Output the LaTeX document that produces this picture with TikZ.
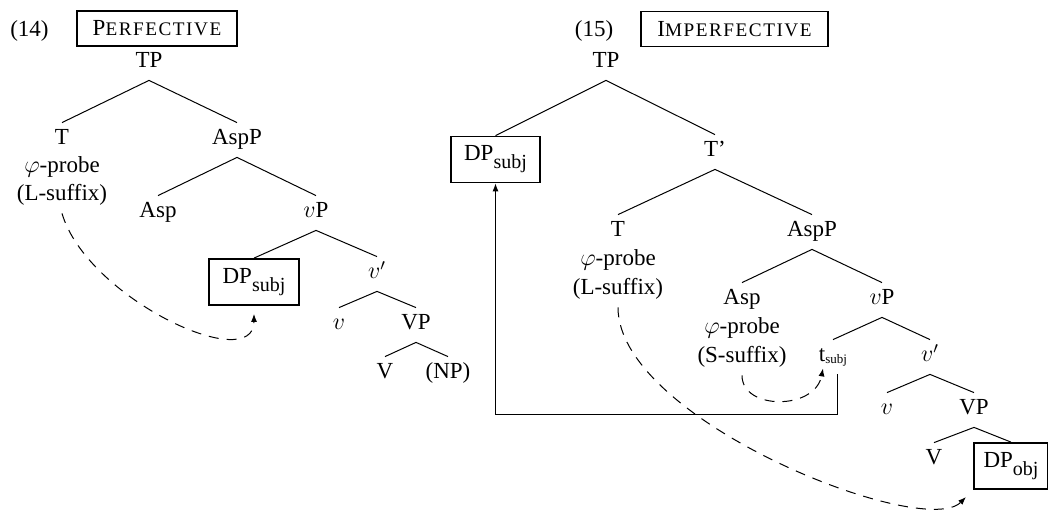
\documentclass[tikz,border=0pt]{standalone}
\usepackage{fontspec}
\setmainfont{Liberation Serif}
\usetikzlibrary{arrows.meta}
% small capitals imitated with a smaller, letter-spaced size
\newcommand\fakesc[2]{#1{\fontsize{9.6}{9.6}\selectfont\addfontfeature{LetterSpace=8}#2}}
% lowered subscript for the DP labels
\newcommand\dpsub[1]{\raisebox{-4pt}{\fontsize{10}{10}\selectfont #1}}
\begin{document}
\begin{tikzpicture}[x=0.5pt, y=-0.5pt,
  every node/.style={font=\fontsize{11.5}{14}\selectfont},
  cat/.style={anchor=base, inner xsep=1pt, inner ysep=3pt, text height=8pt, text depth=3pt},
  dpbox/.style={draw, line width=0.9pt, inner sep=0pt, minimum height=23pt},
  title/.style={draw, line width=0.9pt, inner sep=0pt, minimum height=17.5pt},
  branch/.style={line width=0.5pt},
  mv/.style={line width=0.5pt, -{Latex[length=4pt,width=3pt]}},
  agr/.style={mv, dash pattern=on 5pt off 4pt}]
\useasboundingbox (0,0) rectangle (1048,512);

% example numbers and headings
\node[anchor=base] (ex14) at (29.5,37) {(14)};
\node[title, minimum width=80pt] (perf) at (157,28.5) {\fakesc{P}{ERFECTIVE}};
\node[anchor=base] (ex15) at (594,37) {(15)};
\node[title, minimum width=93.5pt] (imperf) at (734.5,29) {\fakesc{I}{MPERFECTIVE}};

% ---- perfective tree ----
\node[cat] (tpA) at (149,68) {TP};
\node[cat] (tA) at (62,145) {T};
\node[cat] (probeA) at (62,173) {$\varphi$-probe};
\node[cat] (lsufA) at (62,201) {(L-suffix)};
\node[cat] (asppA) at (237,145) {AspP};
\node[cat] (aspA) at (158,218) {Asp};
\node[cat] (vpA) at (316,218) {$v$P};
\node[dpbox, minimum width=45pt] (dpA) at (254,282) {DP\dpsub{subj}};
\node[cat] (vbarA) at (377,279) {$v'$};
\node[cat] (vA) at (339,330) {$v$};
\node[cat] (VPA) at (416,330) {VP};
\node[cat] (VA) at (385,379) {V};
\node[cat] (npA) at (448,379) {(NP)};

\draw[branch] (tpA.south) -- (tA.north);
\draw[branch] (tpA.south) -- (asppA.north);
\draw[branch] (asppA.south) -- (aspA.north);
\draw[branch] (asppA.south) -- (vpA.north);
\draw[branch] (vpA.south) -- (dpA.north);
\draw[branch] (vpA.south) -- (vbarA.north);
\draw[branch] (vbarA.south) -- (vA.north);
\draw[branch] (vbarA.south) -- (VPA.north);
\draw[branch] (VPA.south) -- (VA.north);
\draw[branch] (VPA.south) -- (npA.north);

\draw[agr, shorten >=4pt] (lsufA.south) .. controls +(25,85) and +(0,70) .. (dpA.south);

% ---- imperfective tree ----
\node[cat] (tpB) at (606,68) {TP};
\node[dpbox, minimum width=44.5pt] (dpB) at (495.5,159.5) {DP\dpsub{subj}};
\node[cat] (tbarB) at (715,157) {T’};
\node[cat] (tB) at (618,237) {T};
\node[cat] (probeB) at (618,266) {$\varphi$-probe};
\node[cat] (lsufB) at (618,295) {(L-suffix)};
\node[cat] (asppB) at (812,237) {AspP};
\node[cat] (aspB) at (742,305) {Asp};
\node[cat] (probeC) at (742,334) {$\varphi$-probe};
\node[cat] (ssufB) at (742,363) {(S-suffix)};
\node[cat] (vpB) at (882,305) {$v$P};
\node[cat] (trace) at (833,362) {t\raisebox{-1pt}{\fontsize{6.5}{7}\selectfont subj}};
\node[cat] (vbarB) at (930,362) {$v'$};
\node[cat] (vB) at (887,415) {$v$};
\node[cat] (VPB) at (974,415) {VP};
\node[cat] (VB) at (934,465) {V};
\node[dpbox, minimum width=37pt] (dpobj) at (1011,466) {DP\dpsub{obj}};

\draw[branch] (tpB.south) -- (dpB.north);
\draw[branch] (tpB.south) -- (tbarB.north);
\draw[branch] (tbarB.south) -- (tB.north);
\draw[branch] (tbarB.south) -- (asppB.north);
\draw[branch] (asppB.south) -- (aspB.north);
\draw[branch] (asppB.south) -- (vpB.north);
\draw[branch] (vpB.south) -- (trace.north);
\draw[branch] (vpB.south) -- (vbarB.north);
\draw[branch] (vbarB.south) -- (vB.north);
\draw[branch] (vbarB.south) -- (VPB.north);
\draw[branch] (VPB.south) -- (VB.north);
\draw[branch] (VPB.south) -- (dpobj.north);

% movement of the subject and the two agreement relations
\draw[mv] ([xshift=2pt]trace.south) -- ++(0,-20pt) -| (dpB.south);
\draw[agr] (ssufB.south) .. controls +(0,35) and +(-8,42) .. ([xshift=-5pt,yshift=3pt]trace.south);
\draw[agr, shorten >=5pt] (lsufB.south) .. controls +(0,113) and +(-50,50) .. (dpobj.south west);
\end{tikzpicture}
\end{document}
